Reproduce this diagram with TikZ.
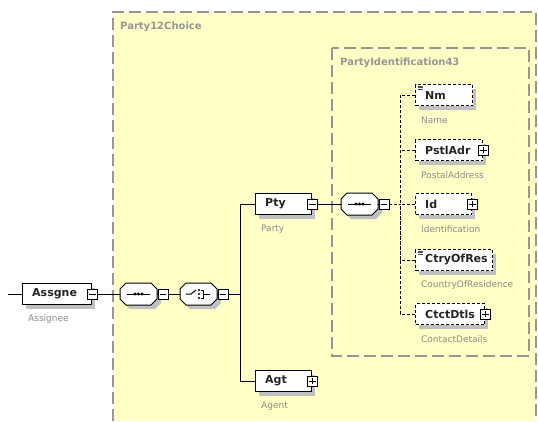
\documentclass[tikz,border=0pt]{standalone}
\usepackage{fontspec}
\setmainfont{DejaVu Sans}
\usetikzlibrary{calc}
\definecolor{bgyellow}{RGB}{255,255,198}
\definecolor{boxgray}{RGB}{150,150,150}
\definecolor{labgray}{RGB}{140,140,140}
\definecolor{shad}{RGB}{192,192,192}
\tikzset{
  elem/.style={draw=black, fill=white, line width=1.1pt, minimum height=21pt, inner sep=0pt, anchor=west},
  optelem/.style={elem, dash pattern=on 3pt off 2pt},
  ename/.style={font=\fontsize{11}{13}\selectfont\bfseries, inner sep=0pt, anchor=west, text=black!85},
  elabel/.style={font=\fontsize{9}{11}\selectfont, text=labgray, inner sep=0pt, anchor=west},
  pm/.style={draw=black, fill=white, line width=0.8pt, minimum size=10pt, inner sep=0pt},
  conn/.style={line width=1pt, black},
  dconn/.style={line width=1pt, black, dash pattern=on 3pt off 2pt},
  grpborder/.style={draw=boxgray, line width=1.4pt, dash pattern=on 12pt off 5pt},
  grptitle/.style={font=\fontsize{10}{12}\selectfont\bfseries, text=boxgray, inner sep=0pt, anchor=west},
  compbox/.style={draw=black, fill=white, line width=1pt},
}
% id, x left, y center, width, text, label, style
\newcommand{\xelem}[7]{%
  \fill[shad] (#2+4,#3-10.5+4) rectangle ++(#4,21);
  \node[#7, minimum width=#4pt] (#1) at (#2,#3) {};
  \node[ename] (#1t) at ([xshift=10pt]#1.west) {#5};
  \node[elabel] (#1l) at ([xshift=6pt,yshift=-14pt]#1.south west) {#6};
}
\newcommand{\xminus}[1]{%
  \node[pm] (#1s) at (#1.east) {};
  \draw[line width=0.8pt] ([xshift=2pt]#1s.west) -- ([xshift=-2pt]#1s.east);
}
\newcommand{\xplus}[1]{%
  \node[pm] (#1s) at (#1.east) {};
  \draw[line width=0.8pt] ([xshift=2pt]#1s.west) -- ([xshift=-2pt]#1s.east);
  \draw[line width=0.8pt] ([yshift=2pt]#1s.south) -- ([yshift=-2pt]#1s.north);
}
\newcommand{\xsimple}[1]{%
  \draw[line width=0.6pt, black!70] ([xshift=3pt,yshift=-2pt]#1.north west) -- ++(5,0)
    ([xshift=3pt,yshift=-3.5pt]#1.north west) -- ++(5,0)
    ([xshift=3pt,yshift=-5pt]#1.north west) -- ++(5,0);
}
% id, x left, y center
\newcommand{\xoct}[3]{%
  \fill[shad] (#2+4+6,#3-11+4) -- (#2+4+31,#3-11+4) -- (#2+4+37,#3-5+4) -- (#2+4+37,#3+5+4)
    -- (#2+4+31,#3+11+4) -- (#2+4+6,#3+11+4) -- (#2+4,#3+5+4) -- (#2+4,#3-5+4) -- cycle;
  \draw[compbox] (#2+6,#3-11) -- (#2+31,#3-11) -- (#2+37,#3-5) -- (#2+37,#3+5)
    -- (#2+31,#3+11) -- (#2+6,#3+11) -- (#2,#3+5) -- (#2,#3-5) -- cycle;
  \node[minimum width=37pt, minimum height=22pt, inner sep=0pt, anchor=west] (#1) at (#2,#3) {};
  \node[pm] (#1s) at (#2+43,#3) {};
  \draw[line width=0.8pt] ([xshift=2pt]#1s.west) -- ([xshift=-2pt]#1s.east);
  \draw[line width=0.8pt] (#1.east) -- (#1s.west);
}
\newcommand{\xseqsym}[2]{%
  \draw[line width=1pt] (#1+7,#2) -- (#1+30,#2);
  \fill (#1+15,#2) circle (1.6) (#1+18.5,#2) circle (1.6) (#1+22,#2) circle (1.6);
}
\newcommand{\xchosym}[2]{%
  \draw[line width=1pt] (#1+6,#2) -- (#1+11,#2) -- (#1+16,#2-4);
  \fill (#1+19,#2-4) circle (1.2) (#1+19,#2) circle (1.2) (#1+19,#2+4) circle (1.2);
  \draw[line width=0.9pt] (#1+21,#2-4) -- (#1+23,#2-4) -- (#1+23,#2+4) -- (#1+21,#2+4)
    (#1+23,#2) -- (#1+30,#2);
}
\begin{document}
\begin{tikzpicture}[x=1pt,y=-1pt]
\useasboundingbox (0,0) rectangle (538,421);
\fill[white] (0,0) rectangle (538,421);
% outer group
\fill[bgyellow] (113,12) rectangle (536,421);
\draw[grpborder] (113,421) -- (113,12) -- (536,12) -- (536,421);
\node[grptitle] (t1) at (120,27) {Party12Choice};
% inner group
\draw[grpborder] (332,48) rectangle (529,356);
\node[grptitle] (t2) at (340,63) {PartyIdentification43};

% root element
\xelem{assgne}{22}{294}{69}{Assgne}{Assignee}{elem}
\xminus{assgne}
\coordinate (start) at (8,294);
\draw[conn] (start) -- (assgne.west);

% compositors
\xoct{seqa}{120}{294}
\xseqsym{120}{294}
\xoct{cho}{180}{294}
\xchosym{180}{294}
\draw[conn] (assgnes.east) -- (seqa.west);
\draw[conn] (seqas.east) -- (cho.west);

% choice children
\xelem{pty}{255}{204}{56}{Pty}{Party}{elem}
\xminus{pty}
\xelem{agt}{255}{381}{56}{Agt}{Agent}{elem}
\xplus{agt}
\coordinate (bus) at (240,294);
\draw[conn] (chos.east) -- (bus);
\draw[conn] (pty.west) -| (bus);
\draw[conn] (agt.west) -| (bus);

% sequence of party identification
\xoct{seqb}{341}{204}
\xseqsym{341}{204}
\draw[conn] (ptys.east) -- (seqb.west);

\xelem{nm}{415}{95}{57}{Nm}{Name}{optelem}
\xsimple{nm}
\xelem{adr}{415}{150}{67}{PstlAdr}{PostalAddress}{optelem}
\xplus{adr}
\xelem{idn}{415}{204}{56}{Id}{Identification}{optelem}
\xplus{idn}
\xelem{ctry}{415}{260}{77}{CtryOfRes}{CountryOfResidence}{optelem}
\xsimple{ctry}
\xelem{ctct}{415}{314}{69}{CtctDtls}{ContactDetails}{optelem}
\xplus{ctct}

\coordinate (bus2) at (400,204);
\draw[dconn] (seqbs.east) -- (bus2);
\draw[dconn] (nm.west) -| (bus2);
\draw[dconn] (adr.west) -| (bus2);
\draw[dconn] (idn.west) -- (bus2);
\draw[dconn] (ctry.west) -| (bus2);
\draw[dconn] (ctct.west) -| (bus2);
\end{tikzpicture}
\end{document}
